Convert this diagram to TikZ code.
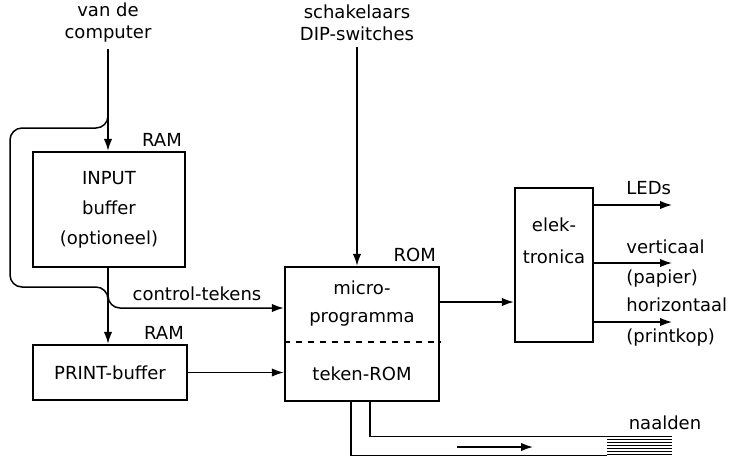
\documentclass[tikz,border=0pt]{standalone}
\usepackage{fontspec}
\setmainfont{DejaVu Sans}
\usetikzlibrary{positioning,arrows.meta}

\begin{document}
\begin{tikzpicture}[
  x=0.5pt, y=-0.5pt,
  font=\fontsize{9}{11}\selectfont,
  line/.style={-{Latex[length=6pt,width=4.2pt]}, line width=0.75pt},
  wire/.style={line width=0.75pt},
  box/.style={draw, line width=1.2pt, inner sep=0pt, align=center},
  tag/.style={inner sep=3pt, align=center},
  outtag/.style={inner sep=0pt, anchor=west},
  memtag/.style={inner sep=2pt, anchor=south east}
]
\useasboundingbox (0,0) rectangle (732,457);

% Boxes
\node[box, minimum width=76pt, minimum height=57.5pt] (inbuf) at (109,209.5) {INPUT\\[4pt]buffer\\[4pt](optioneel)};
\node[box, minimum width=77pt, minimum height=27.5pt] (prbuf) at (110,372.5) {PRINT-buffer};
\node[box, minimum width=77pt, minimum height=67pt] (micro) at (362,334) {};
\node[box, minimum width=39pt, minimum height=77pt] (elek) at (554,265) {};
\node[tag] (microtxt) at (362,304) {micro-\\[3pt]programma};
\node[tag] (tekentxt) at (362,374) {teken-ROM};
\node[tag] (elektxt) at (554,241) {elek-\\[5pt]tronica};
\node[memtag] (ramin) at (inbuf.north east) {RAM};
\node[memtag] (ramprint) at (prbuf.north east) {RAM};
\node[memtag] (rom) at (micro.north east) {ROM};

% Sources
\node[tag] (src) at (108,23) {van de\\computer};
\node[tag] (dip) at (357,23) {schakelaars\\DIP-switches};

% Help points
\coordinate (split) at (108,110);
\coordinate (merge) at (108,302);
\coordinate (branch) at (108,292);
\coordinate (ctly) at (0,308);
\coordinate (romout) at (0,302);
\coordinate (dashy) at (0,342);
\coordinate (wa) at (351,0);
\coordinate (wb) at (370,0);
\coordinate (movea) at (457,447);
\coordinate (moveb) at (533,447);

% Dashed split of the ROM
\draw[dashed, line width=0.7pt] (micro.west |- dashy) -- (micro.east |- dashy);

% Inputs
\draw[line] (src.south) -- (src.south |- inbuf.north);
\draw[wire, rounded corners=6pt] (split) |- (10,128) |- (108,287) -- (merge);
\draw[line, rounded corners=6pt] (branch) |- (micro.west |- ctly);
\node[tag] (ctltxt) at (197,294) {control-tekens};
\draw[line] (inbuf.south -| src) -- (prbuf.north -| src);
\draw[line] (prbuf.east) -- (prbuf.east -| micro.west);
\draw[line] (dip.south) -- (dip.south |- micro.north);

% To the electronics
\draw[line] (micro.east |- romout) -- (elek.west |- romout);
\foreach \y/\n in {205/led,263/vert,322/hor}{
  \coordinate (\n) at (672,\y);
  \draw[line] (elek.east |- \n) -- (\n);
}
\node[outtag] (ledtxt) at (626,188) {LEDs};
\node[outtag] (verttxt) at (626,247) {verticaal};
\node[outtag] (paptxt) at (626,279) {(papier)};
\node[outtag] (hortxt) at (626,305) {horizontaal};
\node[outtag] (kophtxt) at (626,338) {(printkop)};

% Needles
\node[inner sep=0pt, minimum width=32.5pt, minimum height=9pt] (needles) at (639.5,446) {};
\foreach \i in {0,...,6}
  \draw[wire] ([yshift=-\i*1.5pt]needles.north west) -- ([yshift=-\i*1.5pt]needles.north east);
\draw[wire] (micro.south -| wa) |- (needles.south west);
\draw[wire] (micro.south -| wb) |- (needles.north west);
\draw[line] (movea) -- (moveb);
\node[tag] (naalden) at (665,423) {naalden};
\end{tikzpicture}
\end{document}
